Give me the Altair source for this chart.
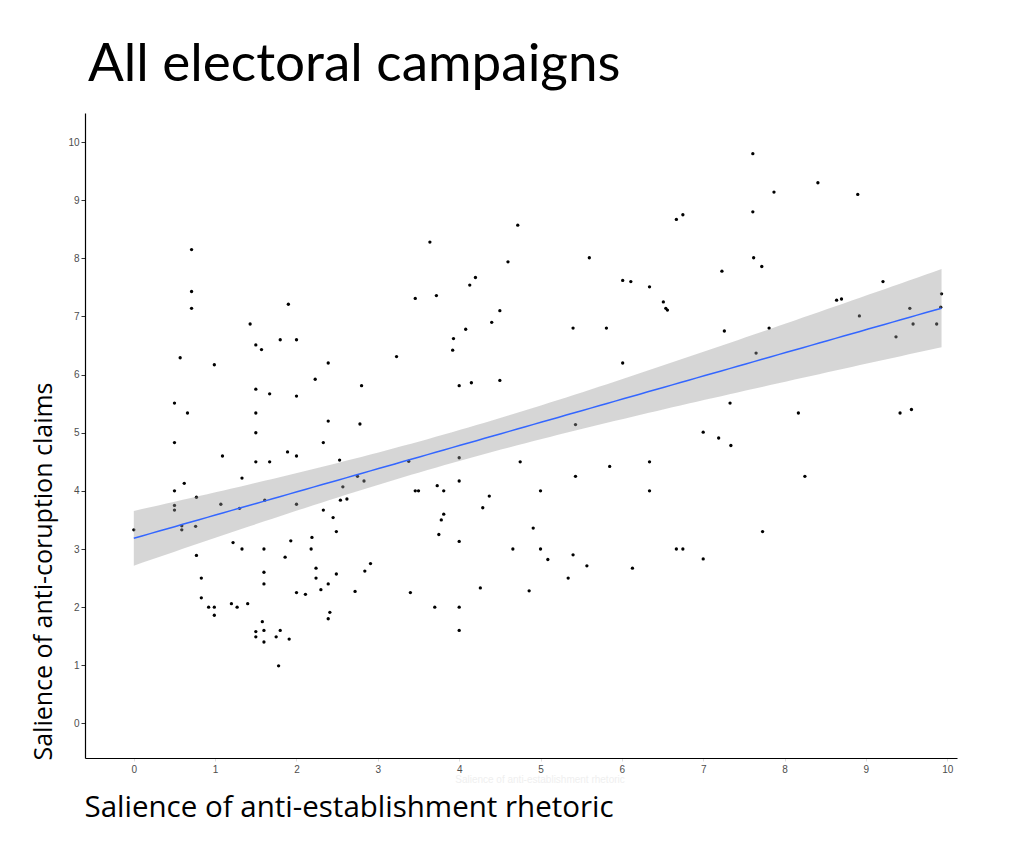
import altair as alt
import numpy as np
import pandas as pd

# ---- data ----
x_vals = [
    0.71, 0.71, 0.71, 1.90, 1.43, 1.80, 2.00, 1.50, 1.57, 0.57, 0.99, 2.39, 2.23, 2.80, 1.50, 1.67, 2.00, 0.50, 0.66, 1.50, 2.39, 2.78, 1.50,
    0.50, 2.33, 1.09, 1.89, 2.00, 1.50, 1.67, 2.53, 1.33, 0.62, 0.50, 0.77, 2.75, 2.83, 2.57, 1.07, 1.61, 0.50, 0.50, 1.30, 2.00, 2.54,
    2.62, 2.33, 2.45, 0.00, 0.59, 0.59, 0.76, 2.49, 2.19, 1.93, 1.22, 1.33, 1.60, 2.18, 0.77, 1.86, 2.24, 1.60, 2.91, 2.84, 2.49, 0.83,
    2.24, 1.60, 2.39, 2.30, 2.00, 2.11, 2.72, 0.83, 1.20, 1.40, 0.92, 0.99, 1.27, 0.99, 2.41, 2.39, 1.58, 1.50, 1.50, 1.60, 1.80, 1.75,
    1.91, 1.60, 1.78,
    4.72, 3.64, 4.60, 5.60, 4.20, 4.13, 3.46, 3.72, 6.01, 6.11, 6.34, 6.51, 6.54, 6.56, 4.50, 4.40, 4.08, 5.40, 5.81, 3.93, 3.92, 3.23,
    6.01, 4.00, 4.15, 4.50, 5.43,
    3.38, 4.00, 4.75, 5.85, 6.34, 5.43, 4.00, 3.73, 3.46, 3.50, 3.81, 5.00, 6.34, 4.37, 4.29, 3.81, 3.78, 3.75, 4.00, 4.91, 4.66, 5.00,
    5.09, 5.40, 5.57, 6.13, 5.34, 3.40, 4.26, 4.86, 3.70, 4.00, 4.00,
    7.61, 8.41, 8.90, 7.87, 6.67, 6.75, 7.61, 7.62, 7.72, 7.23, 9.21, 8.64, 8.70, 9.93, 9.92, 9.54, 9.58, 9.87, 8.92, 9.37, 7.26, 7.81,
    7.65, 7.33, 8.17, 9.42, 9.56, 7.00, 7.19,
    7.34, 8.25, 7.73, 6.67, 6.75, 7.00,
]
y_vals = [
    8.15, 7.43, 7.14, 7.21, 6.87, 6.60, 6.60, 6.51, 6.43, 6.29, 6.17, 6.20, 5.92, 5.81, 5.75, 5.67, 5.63, 5.51, 5.34, 5.34, 5.20, 5.15, 5.00,
    4.83, 4.83, 4.60, 4.67, 4.60, 4.50, 4.50, 4.53, 4.22, 4.13, 4.00, 3.89, 4.25, 4.17, 4.07, 3.77, 3.84, 3.75, 3.67, 3.70, 3.77, 3.84,
    3.86, 3.67, 3.54, 3.33, 3.40, 3.33, 3.39, 3.30, 3.20, 3.14, 3.11, 3.00, 3.00, 3.00, 2.89, 2.86, 2.67, 2.60, 2.75, 2.62, 2.57, 2.50,
    2.50, 2.40, 2.40, 2.30, 2.25, 2.22, 2.27, 2.16, 2.06, 2.06, 2.00, 2.00, 2.00, 1.86, 1.91, 1.80, 1.75, 1.58, 1.49, 1.60, 1.60, 1.49,
    1.45, 1.40, 0.99,
    8.57, 8.28, 7.94, 8.01, 7.67, 7.54, 7.31, 7.36, 7.62, 7.60, 7.51, 7.25, 7.14, 7.11, 7.10, 6.90, 6.78, 6.80, 6.80, 6.62, 6.42, 6.31,
    6.20, 5.81, 5.86, 5.90, 5.14,
    4.51, 4.57, 4.50, 4.42, 4.50, 4.25, 4.17, 4.09, 4.00, 4.00, 4.00, 4.00, 4.00, 3.91, 3.71, 3.60, 3.50, 3.25, 3.13, 3.36, 3.00, 3.00,
    2.82, 2.90, 2.71, 2.67, 2.50, 2.25, 2.33, 2.28, 2.00, 2.00, 1.60,
    9.80, 9.30, 9.10, 9.14, 8.67, 8.75, 8.80, 8.01, 7.86, 7.78, 7.60, 7.28, 7.30, 7.39, 7.16, 7.14, 6.87, 6.87, 7.01, 6.65, 6.75, 6.80,
    6.37, 5.51, 5.34, 5.34, 5.40, 5.01, 4.91,
    4.78, 4.25, 3.30, 3.00, 3.00, 2.83,
]
x_ticks = [0, 1, 2, 3, 4, 5, 6, 7, 8, 9, 10]
y_ticks = [0, 1, 2, 3, 4, 5, 6, 7, 8, 9, 10]

points = pd.DataFrame({"x": x_vals, "y": y_vals})

# ---- linear fit with 95% confidence band ----
xa = np.array(x_vals)
ya = np.array(y_vals)
n = len(xa)
xbar, ybar = xa.mean(), ya.mean()
sxx = ((xa - xbar) ** 2).sum()
b1 = ((xa - xbar) * (ya - ybar)).sum() / sxx
b0 = ybar - b1 * xbar
resid = ya - (b0 + b1 * xa)
s = np.sqrt((resid ** 2).sum() / (n - 2))
t = 1.973
xs = np.linspace(xa.min(), xa.max(), 100)
fit = b0 + b1 * xs
se = s * np.sqrt(1.0 / n + (xs - xbar) ** 2 / sxx)
band = pd.DataFrame({"x": xs, "fit": fit, "lo": fit - t * se, "hi": fit + t * se})

xscale = alt.Scale(domain=[-0.6, 10.12], nice=False, zero=False)
yscale = alt.Scale(domain=[-0.595, 10.5], nice=False, zero=False)

xaxis = alt.Axis(
    values=x_ticks, format="d", title="Salience of anti-establishment rhetoric", grid=False,
    titleFont="Open Sans", titleFontSize=29.5, titleFontWeight="normal", titleColor="black",
    titleAnchor="start", titleAlign="left", titleBaseline="alphabetic", titleX=-1, titleY=58,
    tickColor="#dddddd", tickSize=3, labelPadding=3,
)
yaxis = alt.Axis(
    values=y_ticks, format="d", title="Salience of anti-coruption claims", grid=False,
    titleFont="Open Sans", titleFontSize=25, titleFontWeight="normal", titleColor="black",
    titleAlign="left", titleBaseline="alphabetic", titleAngle=270, titleX=-34, titleY=647,
    tickColor="#333333", tickSize=4, labelPadding=2,
)

pts = alt.Chart(points).mark_circle(size=11, color="black", opacity=1).encode(
    x=alt.X("x:Q", scale=xscale, axis=xaxis),
    y=alt.Y("y:Q", scale=yscale, axis=yaxis),
)
area = alt.Chart(band).mark_area(color="#999999", opacity=0.4).encode(
    x=alt.X("x:Q", scale=xscale), y=alt.Y("lo:Q", scale=yscale), y2="hi:Q"
)
line = alt.Chart(band).mark_line(color="#3366FF", strokeWidth=1.5).encode(
    x=alt.X("x:Q", scale=xscale), y=alt.Y("fit:Q", scale=yscale)
)
faint = alt.Chart(pd.DataFrame({"t": ["Salience of anti-establishment rhetoric"]})).mark_text(
    fontSize=10, color="#efefef", font="Liberation Sans", baseline="middle"
).encode(text="t:N", x=alt.value(455), y=alt.value(667))

chart = (
    alt.layer(pts, area, line, faint)
    .properties(
        width=872,
        height=645,
        autosize=alt.AutoSizeParams(type="none"),
        padding={"left": 85, "top": 113, "right": 67, "bottom": 84},
        title=alt.TitleParams(
            "All electoral campaigns", anchor="start", frame="group", font="Lato",
            fontSize=53, fontWeight="normal", color="black", offset=31,
            baseline="alphabetic", dx=3, dy=52,
        ),
        background="white",
    )
    .configure_view(stroke=None)
    .configure_axis(
        domainColor="black", domainWidth=1.2, labelColor="#4d4d4d",
        labelFont="Liberation Sans", labelFontSize=10,
    )
)

chart.save("out.html", embed_options={"renderer": "svg", "actions": False})
